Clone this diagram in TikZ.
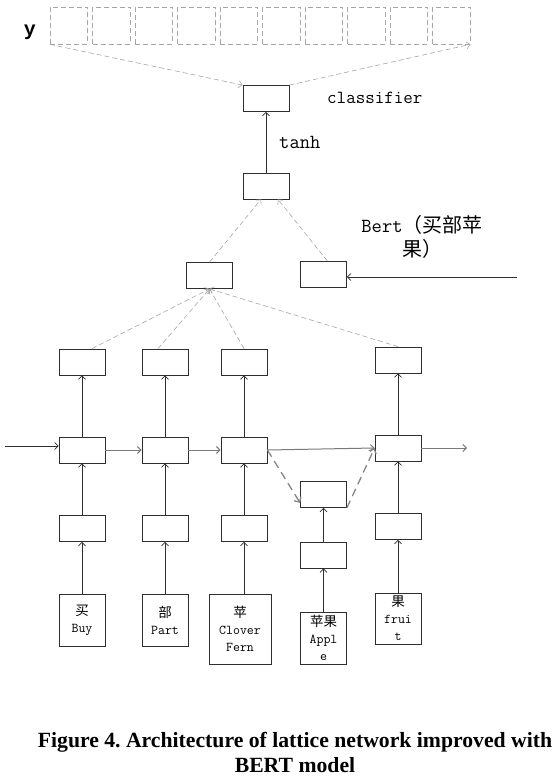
\documentclass[tikz,border=0pt]{standalone}
\usepackage{fontspec}
\usepackage{xcolor}
\usepackage{tikz}
\usetikzlibrary{arrows.meta,positioning}
\newfontfamily\cjk{Noto Sans CJK SC}
\newfontfamily\capfont{Liberation Serif}
\newfontfamily\ylabfont{Liberation Mono}
\definecolor{edge}{HTML}{2E2E2E}
\definecolor{flowgray}{HTML}{7A7A7A}
\definecolor{dashgray}{HTML}{A6A6A6}
\definecolor{hopgray}{HTML}{858585}
\frenchspacing

\begin{document}
\begin{tikzpicture}[x=1pt, y=-1pt,
  cell/.style={draw=edge, line width=0.8pt, minimum width=46pt, minimum height=26pt, inner sep=0pt},
  word/.style={cell, align=center, font=\ttfamily\fontsize{13.5}{17}\selectfont},
  slot/.style={draw=dashgray, line width=0.7pt, dash pattern=on 5pt off 3pt, minimum width=37.5pt, minimum height=37pt, inner sep=0pt},
  up/.style={-{Straight Barb[length=3.5pt,width=7pt]}, draw=edge, line width=0.7pt},
  flow/.style={up, draw=flowgray, line width=1pt},
  soft/.style={-{Straight Barb[length=3.5pt,width=7pt]}, draw=dashgray, line width=0.6pt, dash pattern=on 5pt off 3pt},
  hop/.style={-{Straight Barb[length=4pt,width=8pt]}, draw=hopgray, line width=1.3pt, dash pattern=on 8pt off 5pt},
  tag/.style={font=\ttfamily\fontsize{20}{24}\selectfont, inner sep=0pt}
]
  \useasboundingbox (0,0) rectangle (558,781);

  \foreach \i in {1,...,10}
    \node[slot] (y\i) at ({68.75+42.5*(\i-1)},25.5) {};
  \node[font=\ylabfont\bfseries\fontsize{20}{20}\selectfont, inner sep=0pt, anchor=base] (ylab) at (30,36) {y};

  \node[cell] (cls) at (266,98.5) {};
  \node[tag, font=\ttfamily\fontsize{18.5}{22}\selectfont, anchor=base west] (clstext) at (327,103) {classifier};
  \node[cell] (tanh) at (266,186) {};
  \node[tag, anchor=base west] (tanhtext) at (279,148) {tanh};
  \node[cell] (pool) at (209.5,275.5) {};
  \node[cell] (bert) at (323.5,274.5) {};
  \node[tag, align=center] (berttext) at (422,236.4) {Bert{\cjk （买部苹}\\{\cjk 果）}};
  \coordinate (bertin) at (517,277);

  \node[cell] (h1) at (82,362) {};
  \node[cell] (h2) at (165,362) {};
  \node[cell] (h3) at (244,362) {};
  \node[cell] (h5) at (398,360) {};

  \node[cell] (l1) at (82,450) {};
  \node[cell] (l2) at (165,450) {};
  \node[cell] (l3) at (244,450) {};
  \node[cell] (l5) at (398,448) {};

  \node[cell] (e1) at (82,528.5) {};
  \node[cell] (e2) at (165,528.5) {};
  \node[cell] (e3) at (244,528.5) {};
  \node[cell] (e5) at (398,526.5) {};
  \node[cell] (lat) at (323.5,494.5) {};
  \node[cell] (e4) at (323.5,555) {};

  \node[word, minimum height=52pt] (w1) at (82,620) {{\cjk 买}\\Buy};
  \node[word, minimum height=52pt] (w2) at (165,620) {{\cjk 部}\\Part};
  \node[word, minimum width=62pt, minimum height=70pt] (w3) at (240,629) {{\cjk 苹}\\Clover\\Fern};
  \node[word, minimum height=52pt] (w4) at (323.5,638) {{\cjk 苹果}\\Appl\\e};
  \node[word, minimum height=51pt] (w5) at (398,618.5) {{\cjk 果}\\frui\\t};

  \foreach \a/\b in {w1/e1, w2/e2, w5/e5, w4/e4, e4/lat, e1/l1, e2/l2, e3/l3, e5/l5, l1/h1, l2/h2, l3/h3, l5/h5, tanh/cls}
    \draw[up] (\a) -- (\b);
  \draw[up] (e3.south |- w3.north) -- (e3.south);

  \coordinate (lin) at (5,446);
  \coordinate (lout) at (467,448);
  \draw[up] (lin) -- (lin -| l1.west);
  \draw[flow] (l1) -- (l2);
  \draw[flow] (l2) -- (l3);
  \draw[flow] (l3.east) -- (l5.west);
  \draw[flow] (l5) -- (lout);
  \draw[hop] (l3.east) -- ([yshift=5pt]lat.south west);
  \draw[hop] (lat.south east) -- (l5.west);

  \draw[soft] ([xshift=10pt]h1.north) -- (pool.south);
  \draw[soft] ([xshift=-7pt]h2.north) -- (pool.south);
  \draw[soft] (h3.north) -- (pool.south);
  \draw[soft] (h5.north) -- (pool.south);
  \draw[soft] (pool.north) -- ([xshift=-5pt]tanh.south);
  \draw[soft] ([xshift=4pt]bert.north) -- ([xshift=12pt]tanh.south);
  \draw[up] (bertin) -- (bertin -| bert.east);
  \draw[soft] (y1.south west) -- (cls.north west);
  \draw[soft] (cls.north east) -- (y10.south east);

  \node[font=\capfont\bfseries\fontsize{21.7}{25}\selectfont, anchor=base, inner sep=0pt] (cap1) at (295,747) {Figure 4. Architecture of lattice network improved with};
  \node[font=\capfont\bfseries\fontsize{21.7}{25}\selectfont, anchor=base, inner sep=0pt] (cap2) at (295,772) {BERT model};
\end{tikzpicture}
\end{document}
